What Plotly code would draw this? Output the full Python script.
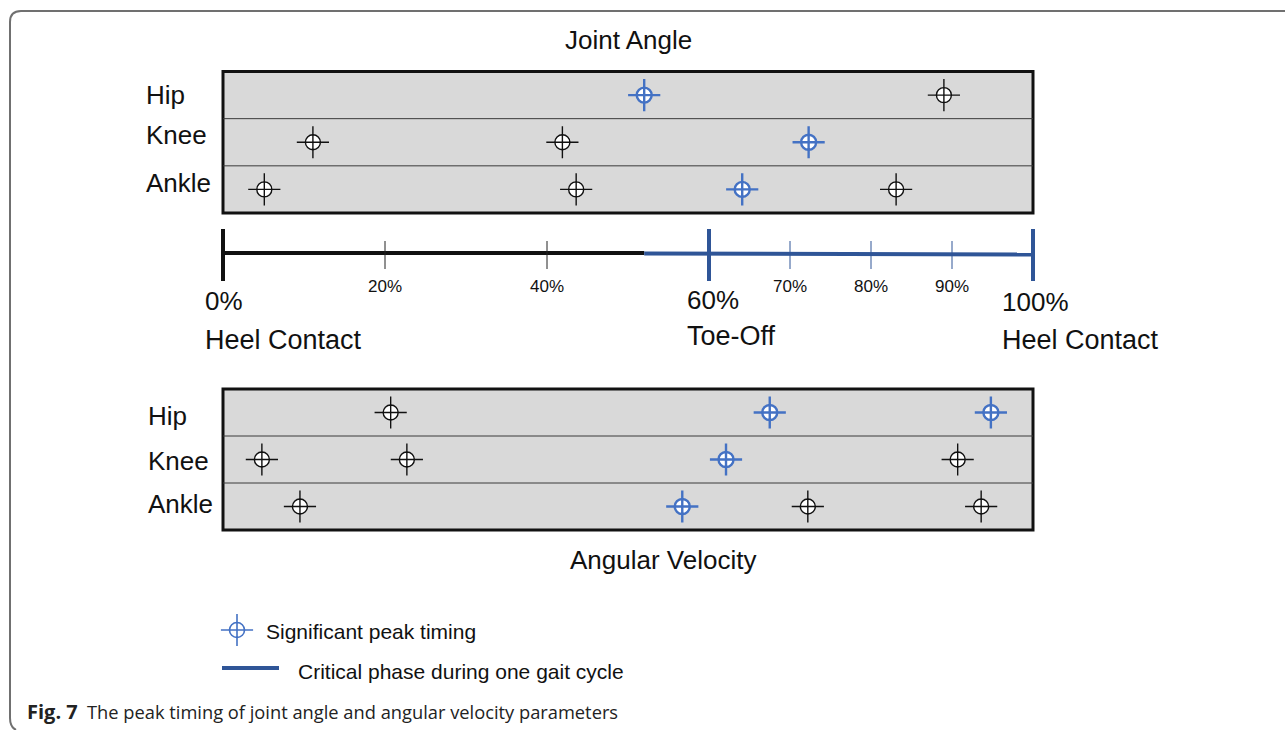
import plotly.graph_objects as go

W, H = 1285, 730

# ---------------- data ----------------
rows = ["Hip", "Knee", "Ankle"]

angle_hip_peaks = [52.0, 89.0]
angle_hip_sig = [1, 0]
angle_knee_peaks = [11.1, 41.9, 72.3]
angle_knee_sig = [0, 0, 1]
angle_ankle_peaks = [5.1, 43.6, 64.1, 83.1]
angle_ankle_sig = [0, 0, 1, 0]

velocity_hip_peaks = [20.7, 67.5, 94.8]
velocity_hip_sig = [0, 1, 1]
velocity_knee_peaks = [4.8, 22.7, 62.1, 90.7]
velocity_knee_sig = [0, 0, 1, 0]
velocity_ankle_peaks = [9.5, 56.7, 72.2, 93.6]
velocity_ankle_sig = [0, 1, 0, 0]

cycle_range = [0, 100]
critical_phase = [52.0, 100.0]
minor_ticks = [20, 40, 70, 80, 90]
minor_labels = ["20%", "40%", "70%", "80%", "90%"]
major_ticks = [0, 60, 100]
major_labels = ["0%", "60%", "100%"]
event_labels = ["Heel Contact", "Toe-Off", "Heel Contact"]

# ---------------- style ----------------
BLACK = "#111111"
BLUE = "#4472C4"
DARKBLUE = "#2F5597"
GRAY = "#D9D9D9"
FONT = "Liberation Sans, Arial, sans-serif"


def px_y(p):
    return 1 - p / H


fig = go.Figure()


def add_peaks(xs, sigs, row, yaxis):
    for flag, color, lw in [(0, BLACK, 1.4), (1, BLUE, 2.4)]:
        xv = [x for x, s in zip(xs, sigs) if s == flag]
        if not xv:
            continue
        yv = [row] * len(xv)
        fig.add_trace(go.Scatter(
            x=xv, y=yv, xaxis="x", yaxis=yaxis, mode="markers",
            marker=dict(symbol="cross-thin-open", size=23, color=color,
                        line=dict(color=color, width=lw)),
            hoverinfo="skip", showlegend=False))
        fig.add_trace(go.Scatter(
            x=xv, y=yv, xaxis="x", yaxis=yaxis, mode="markers",
            marker=dict(symbol="circle-cross", size=15, color="white",
                        line=dict(color=color, width=lw)),
            hoverinfo="skip", showlegend=False))


add_peaks(angle_hip_peaks, angle_hip_sig, 0, "y")
add_peaks(angle_knee_peaks, angle_knee_sig, 1, "y")
add_peaks(angle_ankle_peaks, angle_ankle_sig, 2, "y")
add_peaks(velocity_hip_peaks, velocity_hip_sig, 0, "y2")
add_peaks(velocity_knee_peaks, velocity_knee_sig, 1, "y2")
add_peaks(velocity_ankle_peaks, velocity_ankle_sig, 2, "y2")

# ---------------- timeline ----------------
fig.add_trace(go.Scatter(x=[cycle_range[0], critical_phase[0]], y=[0, 0],
                         xaxis="x", yaxis="y3", mode="lines",
                         line=dict(color=BLACK, width=4),
                         hoverinfo="skip", showlegend=False))
fig.add_trace(go.Scatter(x=critical_phase, y=[-0.5, -1.5],
                         xaxis="x", yaxis="y3", mode="lines",
                         line=dict(color=DARKBLUE, width=4),
                         hoverinfo="skip", showlegend=False))
for t in minor_ticks:
    col = "#222222" if t < critical_phase[0] else DARKBLUE
    fig.add_trace(go.Scatter(x=[t, t], y=[12, -16], xaxis="x", yaxis="y3", mode="lines",
                             line=dict(color=col, width=1),
                             hoverinfo="skip", showlegend=False))
for t in major_ticks:
    col = BLACK if t < critical_phase[0] else DARKBLUE
    fig.add_trace(go.Scatter(x=[t, t], y=[24, -28], xaxis="x", yaxis="y3",
                             mode="lines", line=dict(color=col, width=4),
                             hoverinfo="skip", showlegend=False))

# ---------------- legend glyphs (pixel overlay axis) ----------------
fig.add_trace(go.Scatter(x=[237], y=[630], xaxis="x2", yaxis="y4", mode="markers",
                         marker=dict(symbol="cross-thin-open", size=23, color=BLUE,
                                     line=dict(color=BLUE, width=1.6)),
                         hoverinfo="skip", showlegend=False))
fig.add_trace(go.Scatter(x=[237], y=[630], xaxis="x2", yaxis="y4", mode="markers",
                         marker=dict(symbol="circle-cross", size=15, color="white",
                                     line=dict(color=BLUE, width=1.6)),
                         hoverinfo="skip", showlegend=False))
fig.add_trace(go.Scatter(x=[222, 279], y=[668, 668], xaxis="x2", yaxis="y4", mode="lines",
                         line=dict(color=DARKBLUE, width=4),
                         hoverinfo="skip", showlegend=False))

# ---------------- shapes ----------------
shapes = []
for yref in ["y", "y2"]:
    shapes.append(dict(type="rect", xref="x", yref=yref + " domain",
                       x0=cycle_range[0], x1=cycle_range[1], y0=0, y1=1,
                       fillcolor=GRAY, line=dict(color=BLACK, width=3), layer="below"))
    for b in [0.5, 1.5]:
        shapes.append(dict(type="line", xref="x", yref=yref,
                           x0=cycle_range[0], x1=cycle_range[1], y0=b, y1=b,
                           line=dict(color="#3a3a3a", width=1), layer="below"))
# outer caption frame
shapes.append(dict(type="path", xref="x2", yref="y4",
                   path="M 1285,11 L 21,11 Q 10,11 10,22 L 10,718 Q 10,727 16,730",
                   line=dict(color="#707070", width=2)))

# ---------------- annotations ----------------
ann = []


def txt(text, x, y, size, xanchor="center", xref="x2", yref="y4", color=BLACK, **kw):
    ann.append(dict(text=text, x=x, y=y, xref=xref, yref=yref, showarrow=False,
                    xanchor=xanchor, yanchor="middle",
                    font=dict(family=kw.pop("family", FONT), size=size, color=color), **kw))


txt("Joint Angle", 628, 40, 26)
txt("Angular Velocity", 663, 560, 26)

top_shift = [0, 7, 6]
bot_shift = [-3, -1, 3]
for i, r in enumerate(rows):
    txt(r, 144, i, 26, xanchor="left", yref="y", yshift=top_shift[i])
    txt(r, 146, i, 26, xanchor="left", yref="y2", yshift=bot_shift[i])

for t, lab in zip(minor_ticks, minor_labels):
    txt(lab, t, 286, 17, xref="x")

major_shift = [-20, -24, -33]
major_y = [301, 300, 302]
event_y = [340, 336, 340]
for t, lab, ev, s, y1, y2 in zip(major_ticks, major_labels, event_labels,
                                  major_shift, major_y, event_y):
    txt(lab, t, y1, 26, xanchor="left", xref="x", xshift=s)
    txt(ev, t, y2, 27, xanchor="left", xref="x", xshift=s)

txt("Significant peak timing", 264, 631, 21, xanchor="left")
txt("Critical phase during one gait cycle", 296, 671, 21, xanchor="left")

txt("<b>Fig. 7</b>", 25, 711, 20, xanchor="left", family="Open Sans, sans-serif", color="#222222")
txt("The peak timing of joint angle and angular velocity parameters", 85, 711, 18.3,
    xanchor="left", family="Open Sans, sans-serif", color="#222222")

# ---------------- layout ----------------
# x axis: 0% -> 223 px, 100% -> 1033 px, padded so end ticks are not clipped
ppu = (1033 - 223) / 100.0
pad = 2
x_dom = [(223 - pad * ppu) / W, (1033 + pad * ppu) / W]
hidden = dict(visible=False, fixedrange=True)
fig.update_layout(
    width=W, height=H,
    margin=dict(l=0, r=0, t=0, b=0),
    paper_bgcolor="white", plot_bgcolor="rgba(0,0,0,0)",
    xaxis=dict(domain=x_dom, range=[cycle_range[0] - pad, cycle_range[1] + pad],
               anchor="y", **hidden),
    yaxis=dict(domain=[px_y(213), px_y(71.5)], range=[2.5, -0.5], anchor="x", **hidden),
    yaxis2=dict(domain=[px_y(530), px_y(389)], range=[2.5, -0.5], anchor="x", **hidden),
    yaxis3=dict(domain=[px_y(283), px_y(223)], range=[-30, 30], anchor="x", **hidden),
    xaxis2=dict(domain=[0, 1], range=[0, W], anchor="y4", **hidden),
    yaxis4=dict(domain=[0, 1], range=[H, 0], anchor="x2", **hidden),
    shapes=shapes, annotations=ann, showlegend=False,
    font=dict(family=FONT),
)

fig.write_html("out.html", config={"displayModeBar": False, "staticPlot": True},
               post_script="document.body.style.margin='0';document.body.style.overflow='hidden';")
